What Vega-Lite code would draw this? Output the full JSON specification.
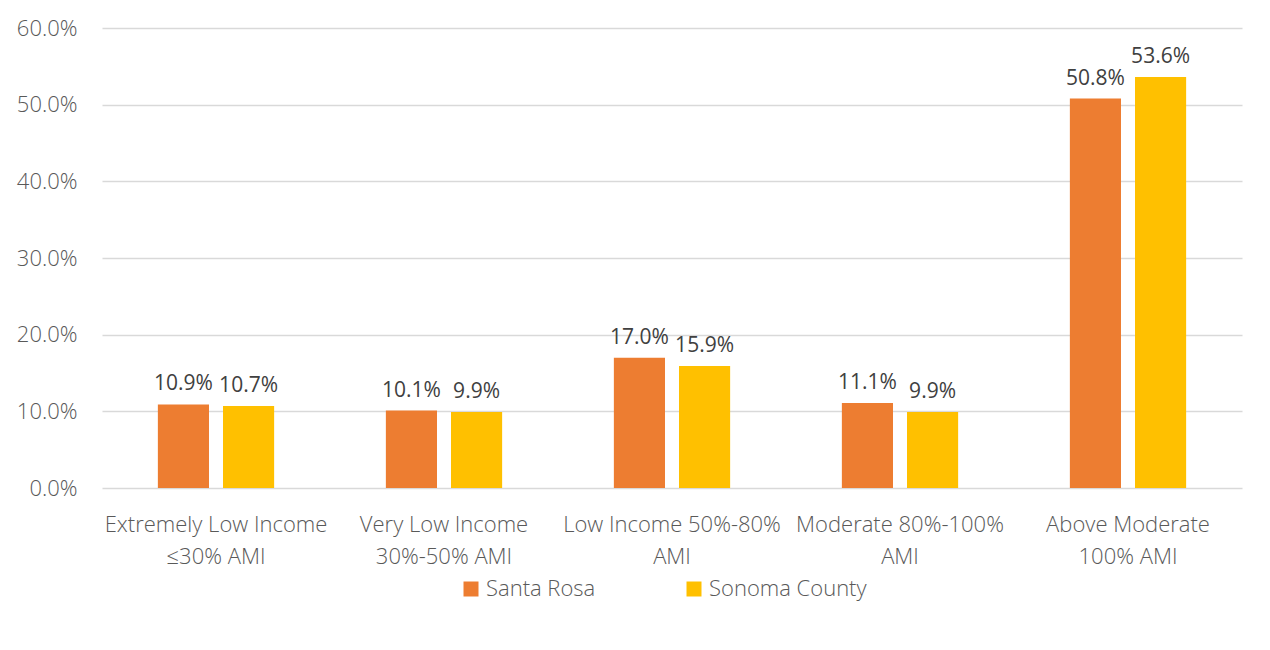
{
  "$schema": "https://vega.github.io/schema/vega-lite/v6.json",
  "width": 1140,
  "height": 460,
  "autosize": "none",
  "padding": {"left": 102, "top": 28, "right": 28, "bottom": 162},
  "background": "white",
  "config": {
    "view": {"stroke": null},
    "font": "Open Sans",
    "axis": {"labelFont": "Open Sans", "labelFontWeight": 300}
  },
  "data": {
    "values": [
      {"cat": "Extremely Low Income|≤30% AMI", "series": "Santa Rosa", "value": 0.109},
      {"cat": "Extremely Low Income|≤30% AMI", "series": "Sonoma County", "value": 0.107},
      {"cat": "Very Low Income|30%-50% AMI", "series": "Santa Rosa", "value": 0.101},
      {"cat": "Very Low Income|30%-50% AMI", "series": "Sonoma County", "value": 0.099},
      {"cat": "Low Income 50%-80%|AMI", "series": "Santa Rosa", "value": 0.170},
      {"cat": "Low Income 50%-80%|AMI", "series": "Sonoma County", "value": 0.159},
      {"cat": "Moderate 80%-100%|AMI", "series": "Santa Rosa", "value": 0.111},
      {"cat": "Moderate 80%-100%|AMI", "series": "Sonoma County", "value": 0.099},
      {"cat": "Above Moderate|100% AMI", "series": "Santa Rosa", "value": 0.508},
      {"cat": "Above Moderate|100% AMI", "series": "Sonoma County", "value": 0.536}
    ]
  },
  "encoding": {
    "x": {
      "field": "cat",
      "type": "nominal",
      "sort": null,
      "title": null,
      "scale": {"paddingInner": 0.49, "paddingOuter": 0.245},
      "axis": {
        "labelAngle": 0,
        "labelExpr": "split(datum.label, '|')",
        "labelFontSize": 22,
        "labelColor": "#595959",
        "labelLineHeight": 32,
        "labelPadding": 26,
        "labelLimit": 400,
        "domain": false,
        "ticks": false,
        "grid": false
      }
    },
    "xOffset": {
      "field": "series",
      "type": "nominal",
      "scale": {"paddingInner": 0.215, "paddingOuter": 0}
    },
    "y": {
      "field": "value",
      "type": "quantitative",
      "title": null,
      "scale": {"domain": [0, 0.6], "nice": false},
      "axis": {
        "format": ".1%",
        "values": [0, 0.1, 0.2, 0.3, 0.4, 0.5, 0.6],
        "labelFontSize": 22,
        "labelColor": "#595959",
        "labelPadding": 25,
        "domain": false,
        "ticks": false,
        "grid": true,
        "gridColor": "#D9D9D9",
        "gridWidth": 1.5
      }
    }
  },
  "layer": [
    {
      "mark": {"type": "bar"},
      "encoding": {
        "color": {
          "field": "series",
          "type": "nominal",
          "scale": {"domain": ["Santa Rosa", "Sonoma County"], "range": ["#ED7D31", "#FFC000"]},
          "legend": {
            "title": null,
            "orient": "none",
            "direction": "horizontal",
            "legendX": 358,
            "legendY": 550,
            "symbolType": "square",
            "symbolSize": 225,
            "symbolStrokeWidth": 0,
            "labelFontSize": 22,
            "labelColor": "#595959",
            "labelFont": "Open Sans",
            "labelFontWeight": 300,
            "labelOffset": 4,
            "columnPadding": 87,
            "labelLimit": 300
          }
        }
      }
    },
    {
      "mark": {"type": "text", "baseline": "bottom", "dy": -10, "fontSize": 21, "color": "#404040"},
      "encoding": {
        "text": {"field": "value", "type": "quantitative", "format": ".1%"}
      }
    }
  ]
}
